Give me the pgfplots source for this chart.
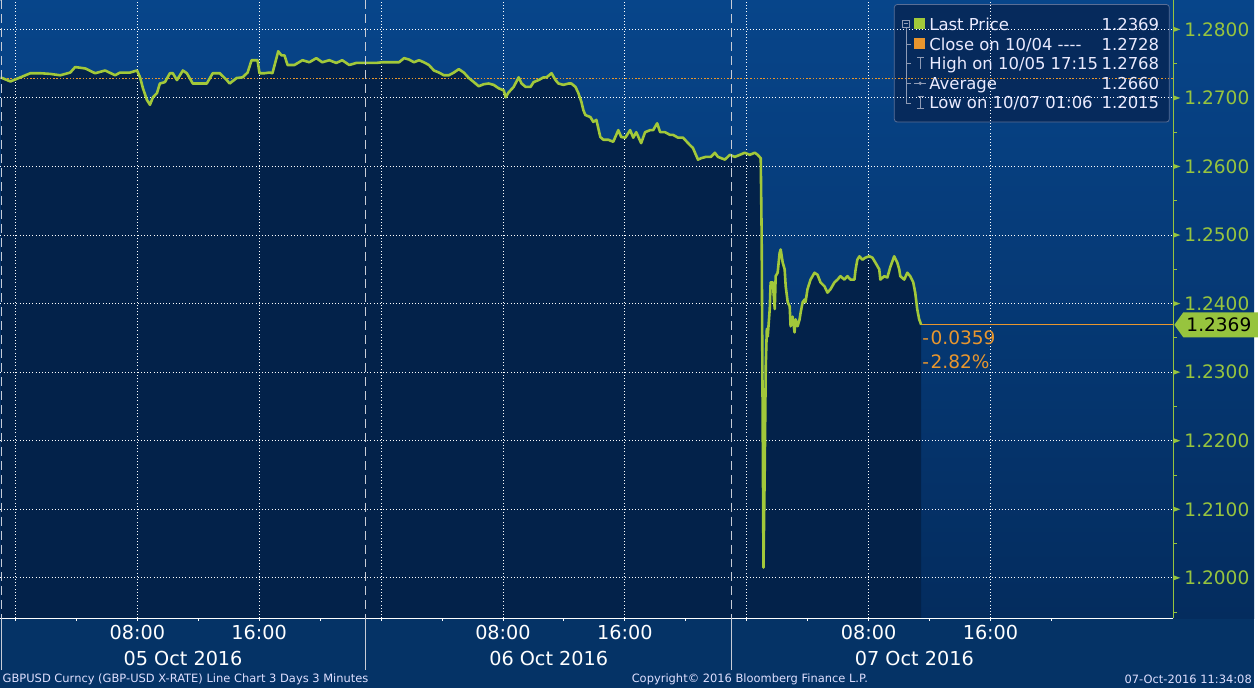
\documentclass[border=0pt]{standalone}
\usepackage{pgfplots}
\pgfplotsset{compat=1.18}
\usepackage{pgfplotstable}
\usepackage{fontspec}
\setmainfont{DejaVu Sans}
\definecolor{panelTop}{HTML}{07458A}
\definecolor{panelBot}{HTML}{042C5E}
\definecolor{strip}{HTML}{053366}
\definecolor{areaFill}{HTML}{03224A}
\definecolor{lineGreen}{HTML}{A2C83A}
\definecolor{tickGreen}{HTML}{97C43E}
\definecolor{closeOrange}{HTML}{E8962E}
\definecolor{legBg}{HTML}{062A5C}
\definecolor{legBorder}{HTML}{5A6E96}
\definecolor{sepGray}{HTML}{C8CCD6}
\definecolor{iconGray}{HTML}{8F9BB5}

\pgfplotstableread{
h p
-0.98 1.2730
-0.33 1.2724
0.33 1.2730
0.98 1.2736
1.64 1.2736
2.29 1.2735
2.94 1.2733
3.60 1.2737
3.92 1.2745
4.58 1.2743
5.23 1.2736
5.89 1.2740
6.54 1.2733
6.87 1.2737
7.52 1.2737
7.98 1.2740
8.18 1.2730
8.37 1.2714
8.63 1.2697
8.83 1.2690
9.03 1.2701
9.29 1.2707
9.48 1.2721
9.81 1.2723
10.14 1.2736
10.33 1.2736
10.60 1.2726
10.99 1.2740
11.25 1.2736
11.64 1.2721
12.10 1.2721
12.56 1.2721
12.95 1.2736
13.41 1.2736
13.87 1.2726
14.06 1.2721
14.52 1.2729
14.91 1.2730
15.24 1.2737
15.50 1.2755
15.89 1.2755
16.02 1.2736
16.35 1.2736
16.68 1.2737
16.87 1.2736
17.25 1.2768
17.46 1.2762
17.66 1.2762
17.86 1.2748
18.31 1.2748
18.84 1.2755
19.29 1.2752
19.75 1.2758
20.14 1.2752
20.60 1.2755
21.06 1.2751
21.45 1.2755
21.91 1.2748
22.37 1.2751
22.76 1.2751
23.22 1.2751
23.68 1.2751
24.07 1.2752
24.72 1.2752
25.18 1.2752
25.51 1.2758
25.83 1.2756
26.16 1.2752
26.49 1.2755
26.81 1.2752
27.14 1.2748
27.47 1.2740
27.80 1.2737
28.12 1.2733
28.45 1.2733
28.78 1.2737
29.10 1.2742
29.43 1.2737
29.76 1.2729
30.09 1.2723
30.41 1.2717
30.74 1.2720
31.07 1.2721
31.39 1.2719
31.72 1.2714
32.05 1.2711
32.18 1.2701
32.37 1.2708
32.70 1.2716
33.03 1.2730
33.22 1.2721
33.49 1.2716
33.81 1.2716
34.01 1.2723
34.34 1.2726
34.66 1.2730
34.86 1.2730
35.19 1.2736
35.45 1.2726
35.64 1.2721
35.97 1.2719
36.30 1.2721
36.49 1.2721
36.76 1.2716
36.95 1.2707
37.15 1.2694
37.28 1.2682
37.41 1.2675
37.74 1.2672
37.93 1.2665
38.13 1.2668
38.39 1.2643
38.59 1.2639
38.91 1.2639
39.24 1.2636
39.57 1.2653
39.76 1.2643
40.03 1.2642
40.35 1.2653
40.55 1.2642
40.75 1.2650
41.07 1.2634
41.33 1.2650
41.66 1.2653
41.86 1.2653
42.12 1.2663
42.32 1.2650
42.64 1.2650
42.97 1.2646
43.17 1.2646
43.49 1.2642
43.82 1.2642
44.28 1.2631
44.47 1.2627
44.80 1.2610
45.00 1.2612
45.32 1.2614
45.65 1.2614
45.91 1.2620
46.11 1.2614
46.57 1.2610
46.89 1.2617
47.22 1.2614
47.55 1.2617
47.87 1.2620
48.20 1.2617
48.53 1.2620
48.72 1.2617
48.92 1.2612
48.98 1.2500
49.10 1.2015
49.18 1.2155
49.25 1.2309
49.32 1.2363
49.38 1.2352
49.51 1.2392
49.57 1.2431
49.71 1.2431
49.84 1.2392
49.90 1.2440
50.03 1.2445
50.16 1.2474
50.23 1.2479
50.36 1.2460
50.49 1.2450
50.56 1.2425
50.69 1.2402
50.82 1.2396
50.88 1.2367
51.01 1.2381
51.14 1.2358
51.21 1.2377
51.34 1.2367
51.47 1.2377
51.54 1.2387
51.67 1.2402
51.80 1.2406
51.86 1.2402
51.99 1.2421
52.19 1.2435
52.45 1.2445
52.65 1.2442
52.84 1.2431
53.11 1.2425
53.30 1.2416
53.50 1.2421
53.76 1.2431
53.96 1.2435
54.15 1.2440
54.41 1.2435
54.61 1.2440
54.81 1.2435
55.07 1.2435
55.13 1.2447
55.26 1.2464
55.40 1.2469
55.59 1.2464
55.79 1.2467
56.05 1.2469
56.25 1.2467
56.44 1.2460
56.70 1.2450
56.77 1.2435
57.03 1.2440
57.23 1.2438
57.42 1.2453
57.68 1.2469
57.88 1.2460
58.01 1.2450
58.08 1.2440
58.34 1.2435
58.54 1.2445
58.73 1.2440
58.93 1.2431
59.06 1.2416
59.19 1.2392
59.32 1.2377
59.39 1.2373
59.45 1.2369
}\gbpusd

\pgfplotsset{myaxis/.style={at={(0pt,70pt)}, anchor=south west, scale only axis,
  width=1177pt, height=620pt, xmin=-0.981, xmax=76.0, ymin=1.19410, ymax=1.28421}}

\newcommand{\tickfont}{\fontsize{18.6}{19}\selectfont}
\newcommand{\xfont}{\fontsize{19.3}{20}\selectfont}
\newcommand{\legfont}{\fontsize{16.5}{17}\selectfont}
\newcommand{\footfont}{\fontsize{11.5}{12}\selectfont}

\begin{document}
\begin{tikzpicture}
\begin{scope}[x=1pt,y=1pt]
\useasboundingbox (0,0) rectangle (1258,690);
\fill[strip] (0,0) rectangle (1258,70);
\shade[top color=panelTop, bottom color=panelBot] (0,70) rectangle (1258,690);
\end{scope}

% area under the price line
\begin{axis}[myaxis, hide axis]
\addplot[fill=areaFill, draw=none] table[x=h,y=p]{\gbpusd} |- (axis cs:-0.98,1.1941) -- cycle;
\end{axis}

% legend box
\begin{scope}[x=1pt,y=1pt]
\fill[legBg, draw=legBorder, line width=0.8pt, rounded corners=3pt] (897,686) rectangle (1173,568);
\end{scope}

\begin{axis}[myaxis, axis line style={draw=none},
  xtick={0,8,16,24,32,40,48,56,64},
  xticklabels={{},08:00,16:00,{},08:00,16:00,{},08:00,16:00},
  ytick={1.20,1.21,1.22,1.23,1.24,1.25,1.26,1.27,1.28},
  ytick pos=right, yticklabel pos=right, xtick pos=left,
  major tick length=0pt, minor tick length=0pt,
  grid=major, major grid style={white, line width=0.9pt, dash pattern=on 1pt off 2.2pt},
  scaled y ticks=false,
  /pgf/number format/assume math mode=true,
  yticklabel style={anchor=west, inner sep=0pt, xshift=11pt, text=tickGreen, font=\tickfont,
    /pgf/number format/fixed, /pgf/number format/fixed zerofill, /pgf/number format/precision=4},
  xticklabel style={anchor=center, inner sep=0pt, yshift=-14pt, text=white, font=\xfont},
]
\addplot[closeOrange, line width=1.3pt, dash pattern=on 1.5pt off 1.8pt] coordinates {(-0.981,1.2728) (76,1.2728)};
\addplot[closeOrange, line width=1pt] coordinates {(59.45,1.2369) (76,1.2369)};
\addplot[lineGreen, line width=2.6pt, line join=round] table[x=h,y=p]{\gbpusd};
\end{axis}

\begin{scope}[x=1pt,y=1pt]
% axis lines
\draw[white, line width=1pt] (0,70) -- (1177,70);
\draw[tickGreen, line width=1pt] (1177,70) -- (1177,690);
% x ticks every 4 hours
\foreach \i in {0,...,17}{\draw[white, line width=0.8pt] ({15.0+\i*61.156},70) -- ++(0,-3);}
% y minor ticks
\foreach \i in {0,...,8}{\draw[tickGreen, line width=0.8pt] (1177,{76.2+\i*68.80}) -- ++(4,0);}
% y major arrow ticks
\foreach \i in {0,...,8}{\fill[tickGreen] (1177,{110.6+\i*68.80+2.6}) -- ++(7,-2.6) -- ++(-7,-2.6) -- cycle;}
% last price tag
\fill[tickGreen] (1178,364.5) -- ++(9,12.5) -- ++(75,0) -- ++(0,-25) -- ++(-75,0) -- cycle;
\node[anchor=west, inner sep=0pt, font=\tickfont, text=black] at (1190,364.5) {1.2369};
% change annotations
\node[anchor=west, inner sep=0pt, font=\tickfont, text=closeOrange] at (925,352) {-\kern1.5pt 0.0359};
\node[anchor=west, inner sep=0pt, font=\tickfont, text=closeOrange] at (925,327.5) {-\kern1.5pt 2.82\%};
% day separators
\foreach \sx in {0.8,366.7,733.6}{
  \draw[sepGray, line width=0.9pt, dash pattern=on 9pt off 5pt] (\sx,690) -- (\sx,70);
  \draw[sepGray, line width=0.9pt] (\sx,70) -- (\sx,18);
}
% date labels
\node[font=\xfont, text=white] at (183.2,30) {05 Oct 2016};
\node[font=\xfont, text=white] at (550.2,30) {06 Oct 2016};
\node[font=\xfont, text=white] at (917.1,30) {07 Oct 2016};
% footer
\node[font=\footfont, text=white!88!blue, anchor=west, inner sep=0pt] at (2,9) {GBPUSD Curncy (GBP-USD X-RATE) Line Chart 3 Days 3 Minutes};
\node[font=\footfont, text=white!88!blue, inner sep=0pt] at (752,9) {Copyright© 2016 Bloomberg Finance L.P.};
\node[font=\footfont, text=white!88!blue, anchor=east, inner sep=0pt] at (1256,9) {07-Oct-2016 11:34:08};
% legend content
\draw[iconGray, line width=0.6pt] (905.5,663.5) rectangle (912.5,670.5);
\draw[iconGray, line width=0.6pt] (907,667) -- (911,667);
\draw[iconGray, line width=0.6pt] (909,663.5) -- (909,587);
\foreach \ry in {646.3,626.6,606.9,587.2}{\draw[iconGray, line width=0.6pt] (909,\ry) -- (914,\ry);}
\fill[lineGreen] (917,672) rectangle (928,661);
\fill[closeOrange] (917,652.3) rectangle (928,641.3);
\draw[iconGray, line width=0.7pt] (920,633) -- (927,633) (923.5,633) -- (923.5,621);
\draw[iconGray, line width=0.7pt] (917,606.9) -- (929,606.9);
\fill[iconGray] (923,606.9) circle (1.8);
\draw[iconGray, line width=0.7pt] (920.5,593.5) -- (926.5,593.5) (923.5,593.5) -- (923.5,582) (920,582) -- (927,582);
\begin{scope}[every node/.style={font=\legfont, text=white!92!blue, inner sep=0pt}]
\node[anchor=base west] at (932,660) {Last Price};
\node[anchor=base east] at (1163,660) {1.2369};
\node[anchor=base west] at (932,640.3) {Close on 10/04 -{}-{}-{}-};
\node[anchor=base east] at (1163,640.3) {1.2728};
\node[anchor=base west] at (932,620.6) {High on 10/05 17:15};
\node[anchor=base east] at (1163,620.6) {1.2768};
\node[anchor=base west] at (932,600.9) {Average};
\node[anchor=base east] at (1163,600.9) {1.2660};
\node[anchor=base west] at (932,581.2) {Low on 10/07 01:06};
\node[anchor=base east] at (1163,581.2) {1.2015};
\end{scope}
\end{scope}
\end{tikzpicture}
\end{document}
